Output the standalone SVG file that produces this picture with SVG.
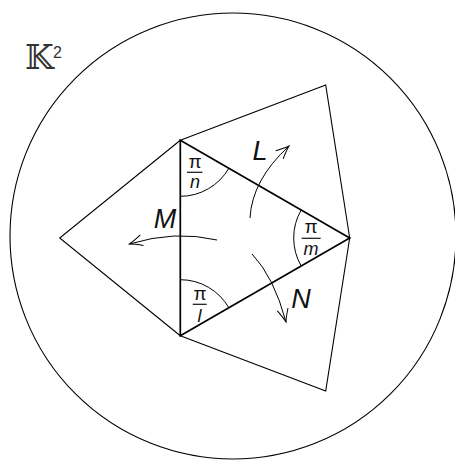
<svg xmlns="http://www.w3.org/2000/svg" width="455" height="461" viewBox="0 0 455 461">
<style>
.thin{fill:none;stroke:#000;stroke-width:1.1}
.bold{fill:none;stroke:#000;stroke-width:1.7;stroke-linejoin:miter}
.arc{fill:none;stroke:#000;stroke-width:1}
.arr{fill:none;stroke:#000;stroke-width:1;marker-end:url(#ah)}
.lbl{font-family:"Liberation Sans",Arial,sans-serif;font-style:italic;font-size:27px;fill:#111;text-anchor:middle}
.pi{font-family:"Liberation Sans",Arial,sans-serif;font-size:19px;fill:#111;text-anchor:middle}
.den{font-family:"Liberation Sans",Arial,sans-serif;font-style:italic;font-size:18px;fill:#111;text-anchor:middle}
.bar{stroke:#111;stroke-width:1.2}
</style>
<defs>
<marker id="ah" markerUnits="userSpaceOnUse" markerWidth="30" markerHeight="30" refX="0" refY="0" viewBox="-15 -15 30 30" orient="auto" overflow="visible">
<path d="M-13,-5.5 Q-5,-1.5 0,0 Q-5,1.5 -13,5.5" fill="none" stroke="#000" stroke-width="1"/>
</marker>
</defs>
<g id="disk">
<circle cx="233" cy="236" r="223" class="thin"/>
</g>
<g id="label-K2">
<text x="25" y="69" font-family="DejaVu Serif,serif" font-size="33" fill="#333">𝕂</text>
<text x="53" y="58" font-family="Liberation Sans,Arial,sans-serif" font-size="16" fill="#333">2</text>
</g>
<g id="reflected-tiles">
<polyline id="tile-left" class="thin" points="180.3,140.3 59.7,238 180.3,335.7"/>
<polyline id="tile-top" class="thin" points="180.3,140.3 325.7,85 349.7,238"/>
<polyline id="tile-bottom" class="thin" points="180.3,335.7 325.7,391 349.7,238"/>
</g>
<g id="triangle">
<polygon class="bold" points="180.3,140.3 349.7,238 180.3,335.7"/>
</g>
<g id="angle-n">
<path class="arc" d="M180.3,196.3 A56,56 0 0 0 228.8,168.3"/>
<text class="pi" x="195" y="168">π</text>
<line class="bar" x1="187" y1="172.3" x2="202.5" y2="172.3"/>
<text class="den" x="195" y="187.5">n</text>
</g>
<g id="angle-m">
<path class="arc" d="M301.2,210 A56,56 0 0 0 301.2,266"/>
<text class="pi" x="311" y="233">π</text>
<line class="bar" x1="301.7" y1="238.3" x2="320.7" y2="238.3"/>
<text class="den" x="311" y="255">m</text>
</g>
<g id="angle-l">
<path class="arc" d="M180.3,279.7 A56,56 0 0 1 228.8,307.7"/>
<text class="pi" x="200" y="300">π</text>
<line class="bar" x1="192.7" y1="304.3" x2="206.7" y2="304.3"/>
<text class="den" x="199.5" y="322">l</text>
</g>
<g id="connectors">
<path id="arrow-L" class="arr" d="M250,218 Q252,180 289,146"/>
<path id="arrow-N" class="arr" d="M252,254 Q274,277 286,322"/>
<path id="arrow-M" class="arr" d="M217,240 Q175,230 129.5,244"/>
</g>
<g id="labels">
<text class="lbl" x="260" y="160">L</text>
<text class="lbl" x="165" y="228">M</text>
<text class="lbl" x="301" y="308">N</text>
</g>
</svg>
